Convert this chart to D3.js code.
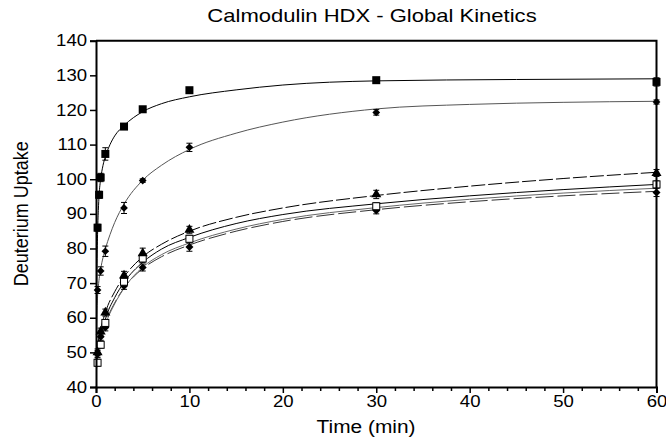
<!DOCTYPE html>
<html><head><meta charset="utf-8">
<script src="https://cdn.jsdelivr.net/npm/d3@7"></script>
<style>body{margin:0;background:#fff}svg{display:block}text{font-family:"Liberation Sans",Arial,sans-serif;fill:#000}</style>
</head><body><svg id="c" width="666" height="441"></svg>
<script>
const title = "Calmodulin HDX - Global Kinetics";
const xLabel = "Time (min)";
const yLabel = "Deuterium Uptake";
const xTicks = [0,10,20,30,40,50,60];
const yTicks = [40,50,60,70,80,90,100,110,120,130,140];

// measured points [time, uptake, error]
const sqFilled = [[0.167,86,1],[0.333,95.5,1],[0.5,100.5,1.2],[1,107.3,1.8],[3,115.2,0.8],[5,120.2,0.6],[10,125.7,0.8],[30,128.6,0.6],[60,128.1,1.2]];
const diamonds = [[0.167,68,1],[0.5,73.5,1.2],[1,79.2,1.5],[3,91.7,1.6],[5,99.6,0.5],[10,109.2,1.2],[30,119.3,0.8],[60,122.3,0.6]];
const triangles = [[0.167,50,1],[0.5,56,1],[1,61.5,1],[3,72.2,1.2],[5,78.6,1.5],[10,85.4,1],[30,95.6,1.2],[60,101.8,1]];
const sqOpen = [[0.167,47,1],[0.5,52.2,1],[1,58.5,1],[3,70.4,1],[5,77.1,1.2],[10,82.8,1],[30,92.2,1],[60,98.5,1]];
const circles = [[0.167,49.5,1],[0.5,54.5,1],[1,57.2,1],[3,69.2,1],[5,74.5,1],[10,80.4,1.2],[30,91,1],[60,96.2,1.2]];

// fitted curves [time, uptake]
const fitSqFilled = [[0,42],[0.05,62],[0.1,74],[0.167,84],[0.25,91],[0.333,95.5],[0.5,100],[0.75,104],[1,106.5],[1.5,110],[2,112.5],[3,115.5],[5,119.5],[7,121.8],[10,123.8],[15,125.8],[20,127.2],[30,128.4],[45,128.8],[60,129]];
const fitDiamonds = [[0,42],[0.05,52],[0.1,60],[0.167,66],[0.25,69],[0.5,74],[1,79.8],[1.5,84],[2,87.5],[3,92.8],[5,99.7],[7,104],[10,108.6],[15,113.3],[20,116.5],[30,120.3],[40,121.6],[50,122.2],[60,122.5]];
const fitTriangles = [[0,42],[0.05,46],[0.167,51],[0.5,56.5],[1,61.5],[2,67.5],[3,71.8],[5,77.6],[7,81.2],[10,85],[15,89],[20,91.7],[30,95.3],[40,98],[50,100.2],[60,102]];
const fitSqOpen = [[0,42],[0.05,45],[0.167,49],[0.5,54],[1,59.5],[2,65.8],[3,70.2],[5,76],[7,79.8],[10,83.2],[15,87.2],[20,89.8],[30,92.9],[40,95.2],[50,97],[60,98.5]];
const fitCircles = [[0,42],[0.05,46],[0.167,50],[0.5,54.5],[1,58.5],[2,64.3],[3,68.6],[5,74.2],[7,77.6],[10,81],[15,85],[20,87.8],[30,91.2],[40,93.5],[50,95.2],[60,96.5]];
const fitCircles2 = [[0,42],[0.05,45],[0.167,48.5],[0.5,53.5],[1,58],[2,64],[3,68.5],[5,74.6],[7,78.2],[10,81.6],[15,85.6],[20,88.4],[30,91.8],[40,94.2],[50,96],[60,97.4]];

const W = 666, H = 441;
const m = {l:96, r:9.5, t:40.7, b:54};
const SX = 1.16; // horizontal stretch of the text in the picture
const svg = d3.select("#c");
const x = d3.scaleLinear().domain([0,60]).range([m.l, W-m.r]);
const y = d3.scaleLinear().domain([40,140]).range([H-m.b, m.t]);

svg.append("clipPath").attr("id", "pc").append("rect")
  .attr("x", m.l).attr("y", m.t).attr("width", W-m.l-m.r).attr("height", H-m.t-m.b);

const line = d3.line().x(d=>x(d[0])).y(d=>y(d[1])).curve(d3.curveMonotoneX);
const g = svg.append("g").attr("clip-path", "url(#pc)");
const curves = [
  [fitSqFilled, "#000", null],
  [fitDiamonds, "#555", null],
  [fitTriangles, "#000", "14,3"],
  [fitSqOpen, "#000", null],
  [fitCircles, "#333", "18,4"],
  [fitCircles2, "#666", null]
];
curves.forEach(([d,c,dash])=>{
  g.append("path").datum(d).attr("d", line).attr("fill","none")
   .attr("stroke", c).attr("stroke-width", 1).attr("stroke-dasharray", dash);
});

function errs(data){
  const e = svg.append("g").attr("stroke","#000").attr("stroke-width",1);
  data.forEach(d=>{
    const cx = x(d[0]), y1 = y(d[1]+d[2]), y2 = y(d[1]-d[2]);
    e.append("line").attr("x1",cx).attr("x2",cx).attr("y1",y1).attr("y2",y2);
    e.append("line").attr("x1",cx-3).attr("x2",cx+3).attr("y1",y1).attr("y2",y1);
    e.append("line").attr("x1",cx-3).attr("x2",cx+3).attr("y1",y2).attr("y2",y2);
  });
}
[sqFilled, diamonds, triangles, sqOpen, circles].forEach(errs);

const mk = svg.append("g");
mk.selectAll(".cf").data(circles).join("path")
  .attr("transform", d=>`translate(${x(d[0])},${y(d[1])}) rotate(45)`)
  .attr("d", d3.symbol(d3.symbolSquare, 32)).attr("fill","#000");
mk.selectAll(".so").data(sqOpen).join("rect")
  .attr("x", d=>x(d[0])-3.5).attr("y", d=>y(d[1])-3.5).attr("width",7).attr("height",7)
  .attr("fill","#fff").attr("stroke","#000").attr("stroke-width",1);
mk.selectAll(".tr").data(triangles).join("path")
  .attr("transform", d=>`translate(${x(d[0])},${y(d[1])})`)
  .attr("d", d3.symbol(d3.symbolTriangle, 44)).attr("fill","#000");
mk.selectAll(".dm").data(diamonds).join("path")
  .attr("transform", d=>`translate(${x(d[0])},${y(d[1])}) rotate(45)`)
  .attr("d", d3.symbol(d3.symbolSquare, 30)).attr("fill","#000");
mk.selectAll(".sf").data(sqFilled).join("rect")
  .attr("x", d=>x(d[0])-4).attr("y", d=>y(d[1])-4).attr("width",8).attr("height",8)
  .attr("fill","#000");

// frame
svg.append("path").attr("d", `M${m.l},${m.t}H${W-m.r}V${H-m.b}`).attr("fill","none").attr("stroke","#000").attr("stroke-width",2);

// axes
const xAxis = d3.axisBottom(x).tickValues(xTicks).tickSize(6).tickPadding(3).tickFormat(d3.format("d"));
const xa = svg.append("g").attr("transform",`translate(0,${H-m.b})`).call(xAxis);
const xMinor = d3.axisBottom(x).tickValues(d3.range(0,61,2).filter(v=>v%10)).tickSize(4).tickFormat("");
const xm = svg.append("g").attr("transform",`translate(0,${H-m.b})`).call(xMinor);
xm.select(".domain").remove();
const yAxis = d3.axisLeft(y).tickValues(yTicks).tickSize(6).tickPadding(3);
const ya = svg.append("g").attr("transform",`translate(${m.l},0)`).call(yAxis);
[xa, xm, ya].forEach(a=>{
  a.selectAll("path.domain").attr("stroke","#000").attr("stroke-width",2);
  a.selectAll(".tick line").attr("stroke","#000").attr("stroke-width",1.5);
  a.selectAll(".tick text").style("font-family","Liberation Sans, Arial, sans-serif").style("font-size","16px").attr("fill","#000");
});
xa.selectAll(".tick text").attr("transform", `scale(${SX},1)`);
ya.selectAll(".tick text").each(function(){
  const t = d3.select(this);
  const xx = +t.attr("x");
  t.attr("text-anchor","end").attr("x", xx/SX).attr("transform", `scale(${SX},1)`);
});

function sText(cx, cy, size, str){
  return svg.append("text").attr("transform", `translate(${cx},${cy}) scale(${SX},1)`)
    .attr("text-anchor","middle").style("font-size", size+"px").text(str);
}
sText(372, 22, 19, title);
sText(366, 433, 18, xLabel);
svg.append("text").attr("transform", `translate(28,${(m.t+H-m.b)/2}) rotate(-90) scale(1,${SX})`).attr("text-anchor","middle").style("font-size","18px").text(yLabel);
</script></body></html>
